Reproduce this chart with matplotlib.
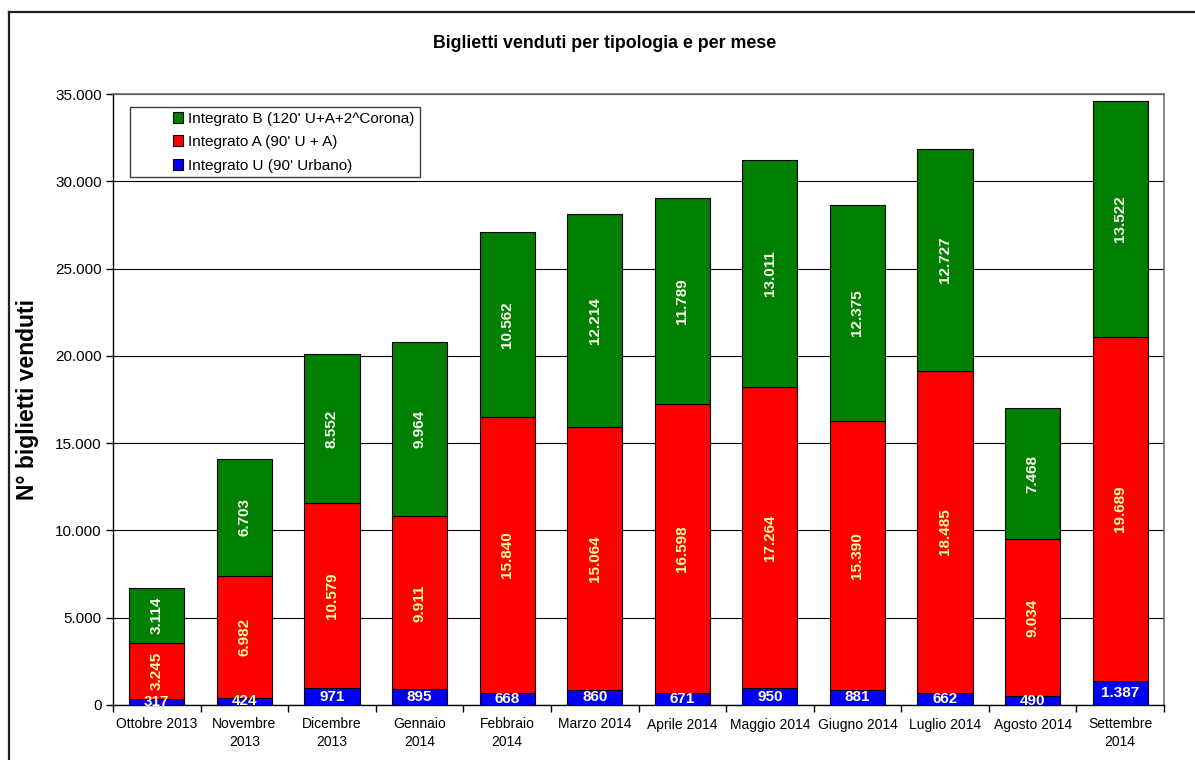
import matplotlib.pyplot as plt
from matplotlib.lines import Line2D
from matplotlib.patches import Rectangle
from matplotlib.ticker import FuncFormatter, FixedLocator
import numpy as np

plt.rcParams['font.family'] = ['Liberation Sans', 'DejaVu Sans']

mesi = ['Ottobre 2013', 'Novembre\n2013', 'Dicembre\n2013', 'Gennaio\n2014',
        'Febbraio\n2014', 'Marzo 2014', 'Aprile 2014', 'Maggio 2014',
        'Giugno 2014', 'Luglio 2014', 'Agosto 2014', 'Settembre\n2014']
integrato_u = [317, 424, 971, 895, 668, 860, 671, 950, 881, 662, 490, 1387]
integrato_a = [3245, 6982, 10579, 9911, 15840, 15064, 16598, 17264, 15390, 18485, 9034, 19689]
integrato_b = [3114, 6703, 8552, 9964, 10562, 12214, 11789, 13011, 12375, 12727, 7468, 13522]


def fmt_it(v, pos=None):
    # separatore migliaia all'italiana
    return f"{int(round(v)):,}".replace(",", ".")


W, H = 1195, 760
fig = plt.figure(figsize=(W / 100, H / 100), dpi=100)
ax = fig.add_axes([113 / W, 1 - 705 / H, (1164 - 113) / W, (705 - 94) / H])

x = np.arange(len(mesi))
u = np.array(integrato_u)
a = np.array(integrato_a)
b = np.array(integrato_b)
w = 0.63

bu = ax.bar(x, u, w, color='#0000FF', edgecolor='black', linewidth=0.8, zorder=3,
            label="Integrato U (90' Urbano)")
ba = ax.bar(x, a, w, bottom=u, color='#FF0000', edgecolor='black', linewidth=0.8, zorder=3,
            label="Integrato A (90' U + A)")
bb = ax.bar(x, b, w, bottom=u + a, color='#008000', edgecolor='black', linewidth=0.8, zorder=3,
            label="Integrato B (120' U+A+2^Corona)")

# etichette dei valori al centro di ogni segmento
for i in x:
    ax.text(i, u[i] / 2, fmt_it(u[i]), ha='center', va='center', fontsize=11,
            fontweight='bold', color='#FFFFCC', zorder=4)
    ax.text(i, u[i] + a[i] / 2, fmt_it(a[i]), ha='center', va='center', fontsize=11,
            fontweight='bold', color='#FFFF99', rotation=90, zorder=4)
    ax.text(i, u[i] + a[i] + b[i] / 2, fmt_it(b[i]), ha='center', va='center', fontsize=11,
            fontweight='bold', color='#FFFFF0', rotation=90, zorder=4)

ax.set_xlim(-0.5, len(mesi) - 0.5)
ax.set_ylim(0, 35000)
ax.set_yticks(np.arange(0, 35001, 5000))
ax.yaxis.set_major_formatter(FuncFormatter(fmt_it))
ax.grid(axis='y', color='black', linewidth=0.8, zorder=0)
ax.set_axisbelow(True)

ax.set_xticks(x)
ax.set_xticklabels(mesi, fontsize=10, linespacing=1.35)
ax.xaxis.set_minor_locator(FixedLocator(np.arange(-0.5, len(mesi), 1)))
ax.tick_params(axis='x', which='major', length=0, pad=9)
ax.tick_params(axis='x', which='minor', length=5, width=1, color='black', direction='out')
ax.tick_params(axis='y', length=5, width=1, color='black', direction='out', labelsize=11, pad=3)

for s in ['left', 'bottom']:
    ax.spines[s].set_color('black')
    ax.spines[s].set_linewidth(1)
for s in ['top', 'right']:
    ax.spines[s].set_color('#707070')
    ax.spines[s].set_linewidth(1.2)

ax.set_ylabel('N° biglietti venduti', fontsize=16.5, fontweight='bold')
ax.yaxis.set_label_coords(-(113 - 39) / (1164 - 113), 0.5)

fig.text(605 / W, 1 - 44 / H, 'Biglietti venduti per tipologia e per mese',
         ha='center', va='center', fontsize=12.8, fontweight='bold')

# riquadro della legenda
ax.add_patch(Rectangle(((130 - 113) / 1051, (705 - 177) / 611), (420 - 130) / 1051, (177 - 107) / 611,
                       transform=ax.transAxes, facecolor='white', edgecolor='#404040',
                       linewidth=1, zorder=5))
leg = ax.legend(handles=[bb, ba, bu], loc='upper left',
                bbox_to_anchor=((162 - 113) / 1051, (705 - 101) / 611),
                frameon=False, fontsize=11, handlelength=0.7, handleheight=0.7,
                handletextpad=0.3, labelspacing=0.62, borderpad=0.2)
leg.set_zorder(6)

# cornice esterna
fig.add_artist(Line2D([9 / W, 9 / W], [0, 1 - 12 / H], color='#202020', linewidth=1.6))
fig.add_artist(Line2D([9 / W, 1], [1 - 12 / H, 1 - 12 / H], color='#202020', linewidth=1.6))

fig.savefig('out.png', dpi=100)
